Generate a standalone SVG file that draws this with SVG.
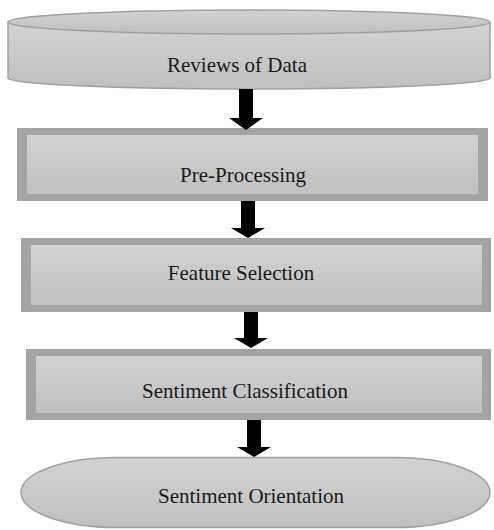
<svg xmlns="http://www.w3.org/2000/svg" width="494" height="530" viewBox="0 0 494 530">
<defs>
<linearGradient id="g" x1="0" y1="0" x2="0" y2="1">
<stop offset="0" stop-color="#d2d2d2"/>
<stop offset="1" stop-color="#c0c0c0"/>
</linearGradient>
<style>
.lbl{font-family:"Liberation Serif","Times New Roman",serif;font-size:21px;fill:#1a1a1a;text-anchor:middle}
.frame{fill:#a4a4a4}
.inner{fill:url(#g)}
.shape{fill:url(#g);stroke:#a0a0a0;stroke-width:1.5}
.arrow{fill:#000}
</style>
</defs>
<rect width="494" height="530" fill="#fff"/>
<g id="reviews">
<path class="shape" d="M8,22 L8,78 A241,11 0 0 0 490,78 L490,22"/>
<ellipse class="shape" cx="249" cy="22" rx="241" ry="12"/>
<text class="lbl" x="237" y="72">Reviews of Data</text>
</g>
<g id="preprocessing">
<rect class="frame" x="17" y="128" width="471" height="73"/>
<rect class="inner" x="27" y="135" width="451" height="59"/>
<text class="lbl" x="243" y="182">Pre-Processing</text>
</g>
<g id="feature">
<rect class="frame" x="21" y="238" width="470" height="74"/>
<rect class="inner" x="31" y="245" width="451" height="60"/>
<text class="lbl" x="241" y="280">Feature Selection</text>
</g>
<g id="classification">
<rect class="frame" x="26" y="349" width="465" height="71"/>
<rect class="inner" x="36" y="356" width="446" height="57"/>
<text class="lbl" x="245" y="398">Sentiment Classification</text>
</g>
<g id="orientation">
<rect class="shape" x="21" y="457.5" width="469" height="70" rx="95" ry="35"/>
<text class="lbl" x="251" y="503">Sentiment Orientation</text>
</g>
<g id="connectors">
<path class="arrow" d="M239,89 H253 V118 H263 L246,130 L229,118 H239 Z"/>
<path class="arrow" d="M241,201 H255 V228 H265 L248,238 L231,228 H241 Z"/>
<path class="arrow" d="M244,312 H258 V338 H268 L251,348 L234,338 H244 Z"/>
<path class="arrow" d="M247,420 H261 V447 H271 L254,457 L237,447 H247 Z"/>
</g>
</svg>
